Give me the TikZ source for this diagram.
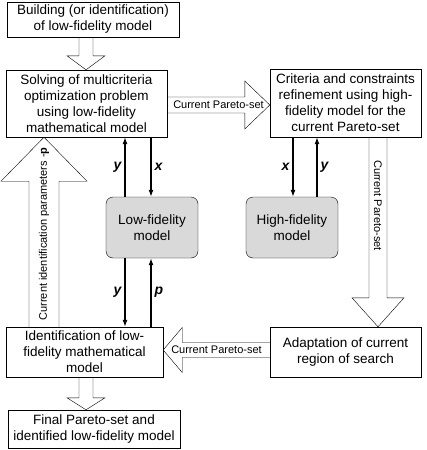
\documentclass[tikz,border=0pt]{standalone}
\usepackage{fontspec}
\setmainfont{Liberation Sans}
\usetikzlibrary{calc,arrows.meta}

% hollow block arrow: from, to, shaft half width, head half width, head length
\newcommand{\hollowarrow}[5]{%
  \coordinate (ha) at ($(#2)!#5!(#1)$);
  \draw ($(#1)!#3!90:(#2)$) -- ($(ha)!#3!90:(#2)$) -- ($(ha)!#4!90:(#2)$) -- (#2)
    -- ($(ha)!#4!-90:(#2)$) -- ($(ha)!#3!-90:(#2)$) -- ($(#1)!#3!-90:(#2)$);}

\tikzset{
  box/.style={draw, align=center, inner sep=2pt, font=\fontsize{13.5}{16}\selectfont},
  model/.style={box, rounded corners=7pt, fill=gray!30},
  lbl/.style={font=\fontsize{11}{13}\selectfont, inner sep=1pt},
  var/.style={font=\fontsize{14}{16}\selectfont\bfseries\itshape, inner sep=3pt},
  conn/.style={line width=1.3pt, -{Latex[length=7pt,width=5pt]}}
}

\begin{document}
\begin{tikzpicture}[x=1pt,y=-1pt]
	\useasboundingbox (0,0) rectangle (427,450);

	% boxes
	\node[box, minimum width=172pt, minimum height=35pt] (build) at (93,19.5) {Building (or identification)\\of low-fidelity model};
	\node[box, minimum width=161pt, minimum height=67pt] (solve) at (86.5,103.5) {Solving of multicriteria\\optimization problem\\using low-fidelity\\mathematical model};
	\node[box, minimum width=151pt, minimum height=68pt] (refine) at (345.5,103) {Criteria and constraints\\refinement using high-\\fidelity model for the\\current Pareto-set};
	\node[model, minimum width=92pt, minimum height=61pt] (lowfi) at (152,227.5) {Low-fidelity\\model};
	\node[model, minimum width=92pt, minimum height=61pt] (highfi) at (292,227.5) {High-fidelity\\model};
	\node[box, minimum width=157pt, minimum height=50pt] (ident) at (84.5,352) {Identification of low-\\fidelity mathematical\\model};
	\node[box, minimum width=151pt, minimum height=50pt] (adapt) at (345.5,352) {Adaptation of current\\region of search};
	\node[box, minimum width=172pt, minimum height=38pt] (final) at (94,429) {Final Pareto-set and\\identified low-fidelity model};

	% columns and rows of the connectors
	\coordinate (cmain) at (86,0);
	\coordinate (cpar) at (44,0);
	\coordinate (cright) at (378,0);
	\coordinate (rtop) at (0,105);
	\coordinate (rbot) at (0,350);
	\coordinate (la) at (125,0);
	\coordinate (lb) at (151,0);
	\coordinate (ha1) at (293,0);
	\coordinate (hb1) at (317,0);

	% hollow arrows
	\hollowarrow{cmain |- build.south}{cmain |- solve.north}{7pt}{19pt}{14pt}
	\hollowarrow{rtop -| solve.east}{rtop -| refine.west}{8pt}{24pt}{25pt}
	\hollowarrow{cpar |- ident.north}{cpar |- solve.south}{15pt}{43pt}{44pt}
	\hollowarrow{cright |- refine.south}{cright |- adapt.north}{9pt}{26pt}{29pt}
	\hollowarrow{rbot -| adapt.west}{rbot -| ident.east}{7.5pt}{22.5pt}{19pt}
	\hollowarrow{cmain |- ident.south}{cmain |- final.north}{7pt}{19pt}{12pt}

	% labels of the hollow arrows
	\path (rtop -| solve.east) -- node[lbl] {Current Pareto-set} (rtop -| refine.west);
	\path (rbot -| adapt.west) -- node[lbl] {Current Pareto-set} (rbot -| ident.east);
	\path (cright |- refine.south) -- node[lbl, rotate=-90, pos=0.36] {Current Pareto-set} (cright |- adapt.north);
	\path (cpar |- ident.north) -- node[lbl, rotate=90, pos=0.49] {Current identification parameters -\textbf{p}} (cpar |- solve.south);

	% data flows
	\draw[conn] (la |- lowfi.north) -- node[var, left] {y} (la |- solve.south);
	\draw[conn] (lb |- solve.south) -- node[var, right] {x} (lb |- lowfi.north);
	\draw[conn] (la |- lowfi.south) -- node[var, left] {y} (la |- ident.north);
	\draw[conn] (lb |- ident.north) -- node[var, right] {p} (lb |- lowfi.south);
	\draw[conn] (ha1 |- refine.south) -- node[var, left] {x} (ha1 |- highfi.north);
	\draw[conn] (hb1 |- highfi.north) -- node[var, right] {y} (hb1 |- refine.south);

\end{tikzpicture}
\end{document}
